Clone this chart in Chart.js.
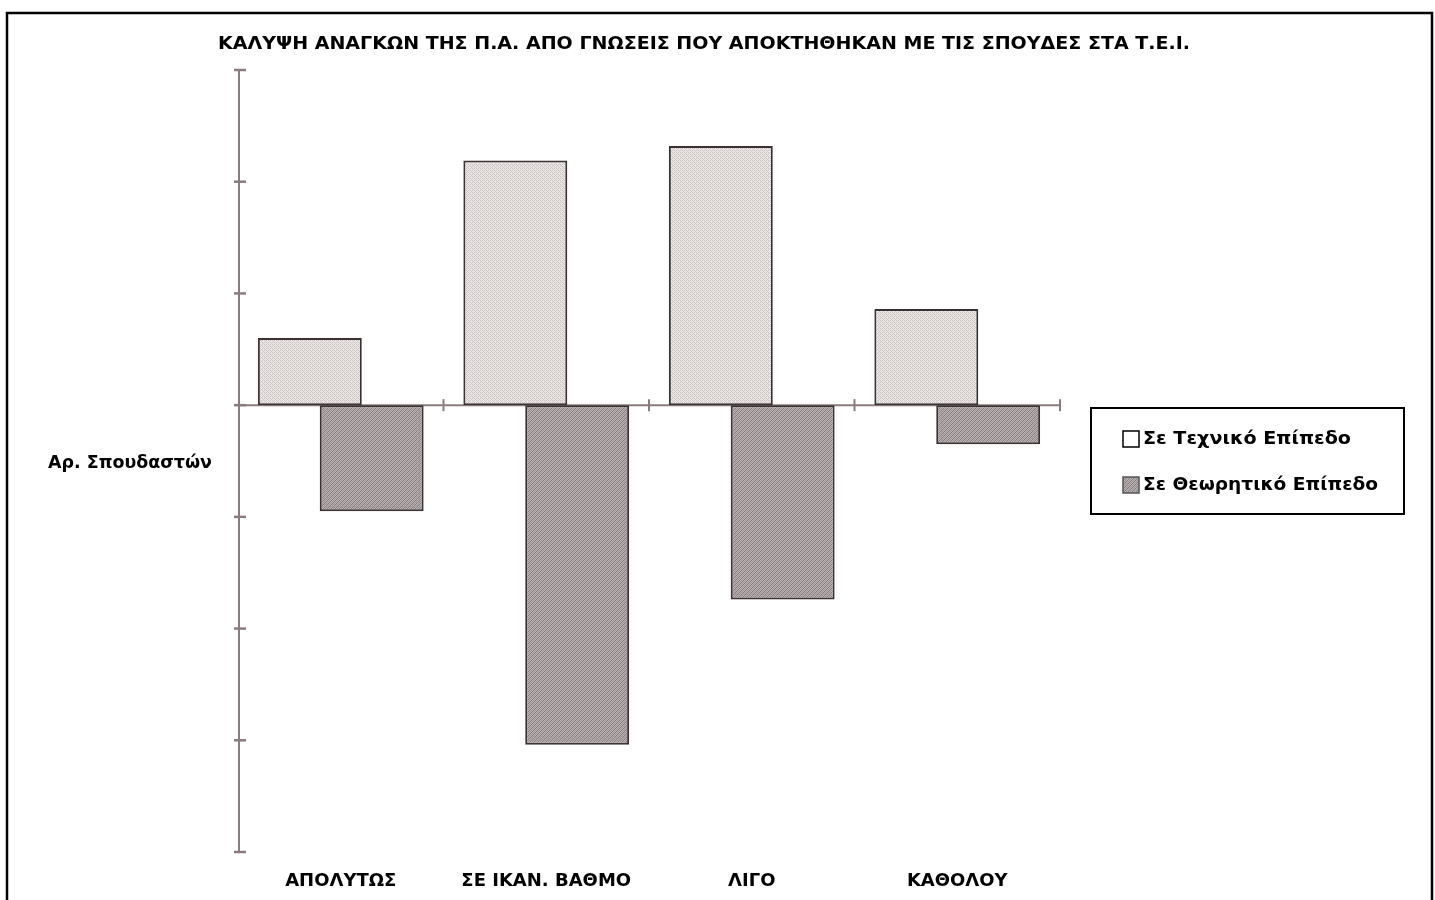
<!DOCTYPE html>
<html>
<head>
<meta charset="utf-8">
<script src="https://cdn.jsdelivr.net/npm/chart.js@4"></script>
<style>
  html, body { margin: 0; padding: 0; background: #fff; }
  #wrap { width: 1435px; height: 900px; }
</style>
</head>
<body>
<div id="wrap"><canvas id="chart" width="1435" height="900"></canvas></div>
<script>
// ── data (10 students per axis tick) ──
var categories = ['ΑΠΟΛΥΤΩΣ', 'ΣΕ ΙΚΑΝ. ΒΑΘΜΟ', 'ΛΙΓΟ', 'ΚΑΘΟΛΟΥ'];
var technicalLevel = [6, 21.9, 23.2, 8.6];
var theoreticalLevel = [-9.5, -30.4, -17.4, -3.5];
var yTicks = [-40, -30, -20, -10, 0, 10, 20, 30];
var seriesNames = ['Σε Τεχνικό Επίπεδο', 'Σε Θεωρητικό Επίπεδο'];
var chartTitle = 'ΚΑΛΥΨΗ ΑΝΑΓΚΩΝ ΤΗΣ Π.Α. ΑΠΟ ΓΝΩΣΕΙΣ ΠΟΥ ΑΠΟΚΤΗΘΗΚΑΝ ΜΕ ΤΙΣ ΣΠΟΥΔΕΣ ΣΤΑ Τ.Ε.Ι.';
var yTitle = 'Αρ. Σπουδαστών';

var FONT = "'DejaVu Sans', sans-serif";
var AXIS_COLOR = '#8a7c7d';
var EDGE_COLOR = '#3a3232';

// small tiled fills to imitate the dotted / hatched bars
function makePattern(kind) {
    var c = document.createElement('canvas');
    c.width = 4; c.height = 4;
    var g = c.getContext('2d');
    if (kind === 'dots') {
        g.fillStyle = '#ebe6e6';
        g.fillRect(0, 0, 4, 4);
        g.fillStyle = '#cdc4c4';
        g.fillRect(0, 0, 1, 1); g.fillRect(2, 2, 1, 1);
        g.fillRect(2, 0, 1, 1); g.fillRect(0, 2, 1, 1);
        g.fillRect(1, 1, 1, 1); g.fillRect(3, 3, 1, 1);
    } else {
        g.fillStyle = '#b7afaf';
        g.fillRect(0, 0, 4, 4);
        g.fillStyle = '#857b7c';
        for (var i = 0; i < 4; i++) g.fillRect(3 - i, i, 1, 1);
        g.fillStyle = '#a09797';
        for (var j = 0; j < 4; j++) g.fillRect((5 - j) % 4, j, 1, 1);
    }
    return document.createElement('canvas').getContext('2d').createPattern(c, 'repeat');
}

var lightFill = makePattern('dots');
var darkFill = makePattern('hatch');

// draw text stretched/squeezed to a given width
function fitText(ctx, text, x, y, width) {
    var w = ctx.measureText(text).width;
    ctx.save();
    ctx.translate(x, y);
    ctx.scale(width / w, 1);
    ctx.fillText(text, 0, 0);
    ctx.restore();
}

// axes with ticks that cross the line, drawn under the bars
var axesPlugin = {
    id: 'crossAxes',
    beforeDatasetsDraw: function (chart) {
        var ctx = chart.ctx, area = chart.chartArea;
        var xs = chart.scales.x, ys = chart.scales.y;
        var zeroY = ys.getPixelForValue(0);
        var axisX = area.left + 1;
        ctx.save();
        ctx.strokeStyle = AXIS_COLOR;
        ctx.lineWidth = 2;
        ctx.beginPath();
        ctx.moveTo(axisX, ys.getPixelForValue(yTicks[yTicks.length - 1]));
        ctx.lineTo(axisX, ys.getPixelForValue(yTicks[0]));
        ctx.stroke();
        ctx.lineWidth = 2.5;
        for (var i = 0; i < yTicks.length; i++) {
            var py = ys.getPixelForValue(yTicks[i]);
            ctx.beginPath();
            ctx.moveTo(axisX - 5, py);
            ctx.lineTo(axisX + 7, py);
            ctx.stroke();
        }
        ctx.lineWidth = 2;
        ctx.beginPath();
        ctx.moveTo(area.left, zeroY);
        ctx.lineTo(area.right, zeroY);
        ctx.stroke();
        var half = (xs.getPixelForValue(1) - xs.getPixelForValue(0)) / 2;
        for (var k = 1; k <= categories.length; k++) {
            var px = xs.getPixelForValue(k - 1) + half;
            ctx.beginPath();
            ctx.moveTo(px, zeroY - 6);
            ctx.lineTo(px, zeroY + 6);
            ctx.stroke();
        }
        ctx.restore();
    }
};

// frame, title, axis caption and boxed legend
var decorPlugin = {
    id: 'decor',
    afterDraw: function (chart) {
        var ctx = chart.ctx;
        ctx.save();
        ctx.strokeStyle = '#000';
        ctx.lineWidth = 2.5;
        ctx.strokeRect(7, 13, 1425, 900);

        ctx.fillStyle = '#000';
        ctx.textBaseline = 'middle';
        ctx.textAlign = 'left';
        ctx.font = 'bold 17px ' + FONT;
        fitText(ctx, chartTitle, 218, 45, 972);

        ctx.font = 'bold 18px ' + FONT;
        fitText(ctx, yTitle, 48, 463, 164);

        ctx.lineWidth = 2;
        ctx.strokeRect(1091, 408, 313, 106);
        var items = chart.data.datasets;
        var rows = [{ y: 439, w: 208 }, { y: 485, w: 235 }];
        for (var i = 0; i < items.length; i++) {
            var r = rows[i];
            ctx.fillStyle = i === 0 ? '#fff' : items[i].backgroundColor;
            ctx.fillRect(1123, r.y - 8, 16, 16);
            ctx.lineWidth = 1.5;
            ctx.strokeStyle = i === 0 ? '#000' : '#555';
            ctx.strokeRect(1123, r.y - 8, 16, 16);
            ctx.fillStyle = '#000';
            ctx.font = 'bold 18px ' + FONT;
            fitText(ctx, items[i].label, 1143, r.y, r.w);
        }
        ctx.restore();
    }
};

new Chart(document.getElementById('chart'), {
    type: 'bar',
    data: {
        labels: categories,
        datasets: [
            {
                label: seriesNames[0],
                data: technicalLevel,
                backgroundColor: lightFill,
                borderColor: EDGE_COLOR,
                borderWidth: 2,
                borderSkipped: false,
                categoryPercentage: 0.602,
                barPercentage: 1.68
            },
            {
                label: seriesNames[1],
                data: theoreticalLevel,
                backgroundColor: darkFill,
                borderColor: EDGE_COLOR,
                borderWidth: 2,
                borderSkipped: false,
                categoryPercentage: 0.602,
                barPercentage: 1.68
            }
        ]
    },
    options: {
        responsive: false,
        animation: false,
        layout: { padding: { left: 238, right: 375, top: 70, bottom: 0 } },
        plugins: {
            legend: { display: false },
            title: { display: false },
            tooltip: { enabled: false }
        },
        scales: {
            x: {
                grid: { display: false, drawTicks: false },
                border: { display: false },
                ticks: {
                    color: '#000',
                    padding: 19,
                    maxRotation: 0,
                    font: { family: FONT, size: 18, weight: 'bold' }
                },
                afterFit: function (scale) { scale.height = 48; }
            },
            y: {
                display: false,
                min: yTicks[0],
                max: yTicks[yTicks.length - 1],
                ticks: { stepSize: 10 }
            }
        }
    },
    plugins: [axesPlugin, decorPlugin]
});
</script>
</body>
</html>
